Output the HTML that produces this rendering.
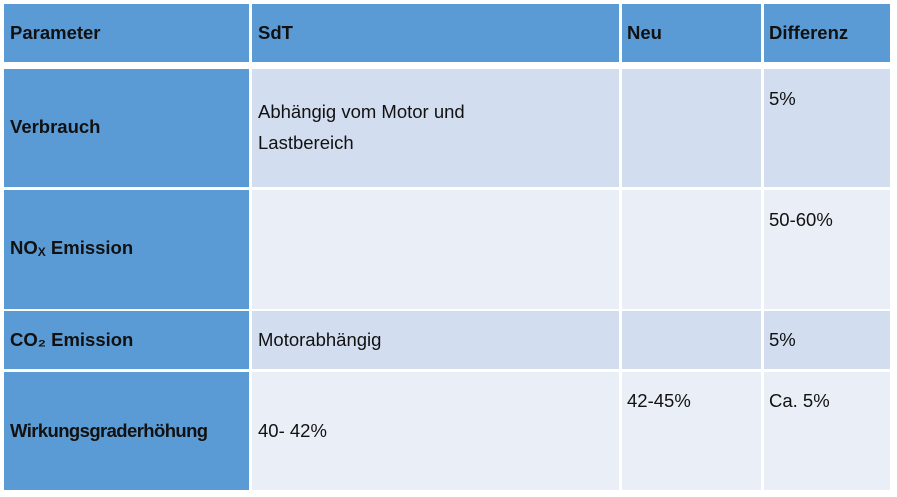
<!DOCTYPE html>
<html><head><meta charset="utf-8">
<style>
body{margin:0;width:897px;height:497px;background:#fff;font-family:"Liberation Sans",sans-serif;position:relative;overflow:hidden}
.c{position:absolute;box-sizing:border-box}
.h{background:#5b9bd5}
.a{background:#d2deef}
.b{background:#eaeff7}
.t{position:absolute;font-size:18.5px;color:#111;white-space:nowrap;line-height:31px}
.bold{font-weight:bold}
</style></head><body>
<div class="c h" style="left:4px;top:4px;width:245px;height:58px"></div>
<div class="c h" style="left:252px;top:4px;width:367px;height:58px"></div>
<div class="c h" style="left:622px;top:4px;width:139px;height:58px"></div>
<div class="c h" style="left:764px;top:4px;width:126px;height:58px"></div>
<div class="t bold" style="left:10px;top:17px">Parameter</div>
<div class="t bold" style="left:258px;top:17px">SdT</div>
<div class="t bold" style="left:627px;top:17px">Neu</div>
<div class="t bold" style="left:769px;top:17px">Differenz</div>

<!-- row 1 -->
<div class="c h" style="left:4px;top:69px;width:245px;height:118px"></div>
<div class="c a" style="left:252px;top:69px;width:367px;height:118px"></div>
<div class="c a" style="left:622px;top:69px;width:139px;height:118px"></div>
<div class="c a" style="left:764px;top:69px;width:126px;height:118px"></div>
<div class="t bold" style="left:10px;top:111px">Verbrauch</div>
<div class="t" style="left:258px;top:96px">Abhängig vom Motor und<br>Lastbereich</div>
<div class="t" style="left:769px;top:83px">5%</div>

<!-- row 2 -->
<div class="c h" style="left:4px;top:190px;width:245px;height:119px"></div>
<div class="c b" style="left:252px;top:190px;width:367px;height:119px"></div>
<div class="c b" style="left:622px;top:190px;width:139px;height:119px"></div>
<div class="c b" style="left:764px;top:190px;width:126px;height:119px"></div>
<div class="t bold" style="left:10px;top:232px">NO<sub style="font-size:12px;vertical-align:-2px">X</sub> Emission</div>
<div class="t" style="left:769px;top:204px">50-60%</div>

<!-- row 3 -->
<div class="c h" style="left:4px;top:311px;width:245px;height:58px"></div>
<div class="c a" style="left:252px;top:311px;width:367px;height:58px"></div>
<div class="c a" style="left:622px;top:311px;width:139px;height:58px"></div>
<div class="c a" style="left:764px;top:311px;width:126px;height:58px"></div>
<div class="t bold" style="left:10px;top:324px">CO₂ Emission</div>
<div class="t" style="left:258px;top:324px">Motorabhängig</div>
<div class="t" style="left:769px;top:324px">5%</div>

<!-- row 4 -->
<div class="c h" style="left:4px;top:372px;width:245px;height:118px"></div>
<div class="c b" style="left:252px;top:372px;width:367px;height:118px"></div>
<div class="c b" style="left:622px;top:372px;width:139px;height:118px"></div>
<div class="c b" style="left:764px;top:372px;width:126px;height:118px"></div>
<div class="t bold" style="left:10px;top:415px;letter-spacing:-0.6px">Wirkungsgraderhöhung</div>
<div class="t" style="left:258px;top:415px">40- 42%</div>
<div class="t" style="left:627px;top:385px">42-45%</div>
<div class="t" style="left:769px;top:385px">Ca. 5%</div>
</body></html>
